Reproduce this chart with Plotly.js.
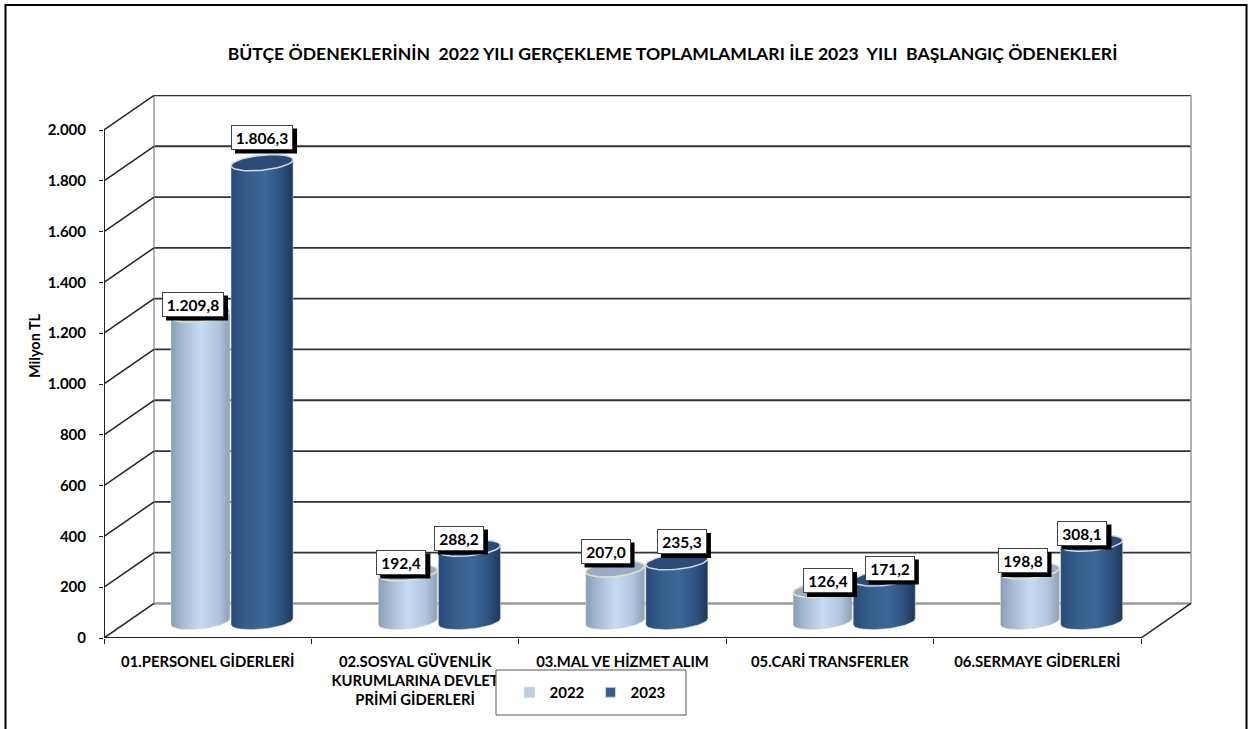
<!DOCTYPE html>
<html>
<head>
<meta charset="utf-8">
<script src="https://cdn.plot.ly/plotly-3.0.1.min.js"></script>
<style>html,body{margin:0;padding:0;background:#fff}#chart{width:1251px;height:729px}</style>
</head>
<body>
<div id="chart"></div>
<script>
// ---- data ----
const categories = ["01.PERSONEL GİDERLERİ", "02.SOSYAL GÜVENLİK<br>KURUMLARINA DEVLET<br>PRİMİ GİDERLERİ", "03.MAL VE HİZMET ALIM", "05.CARİ TRANSFERLER", "06.SERMAYE GİDERLERİ"];
const values2022 = [1209.8, 192.4, 207.0, 126.4, 198.8];
const values2023 = [1806.3, 288.2, 235.3, 171.2, 308.1];
const labels2022 = ["1.209,8", "192,4", "207,0", "126,4", "198,8"];
const labels2023 = ["1.806,3", "288,2", "235,3", "171,2", "308,1"];
const yTicks = [0, 200, 400, 600, 800, 1000, 1200, 1400, 1600, 1800, 2000];
const yTickLabels = ["0", "200", "400", "600", "800", "1.000", "1.200", "1.400", "1.600", "1.800", "2.000"];

// ---- label nudges, px from the top of each cylinder ----
const shift2022 = [[-7.4, 10.2], [-6.5, 10.6], [-9.7, 17.9], [5.4, 8.9], [-7.5, 10.5]];
const shift2023 = [[0, 25.7], [-10.5, 10.3], [5.1, 20.2], [5.6, 10], [-9.2, 10.2]];

// ---- geometry of the pseudo-3D plot ----
const W = 1251, H = 729;
const plotL = 104, plotR = 1192, plotT = 95, plotB = 638;
const pxPerCat = 207.4, pxPerUnit = 0.254;
const depthX = 50 / pxPerCat, depthY = 136;
const font = "Lato, Carlito, 'Open Sans', sans-serif";

const light = {name: "2022", offs: 0.465, rx: 29.5, top: "#9aadc4", edge: "#e8e4cc",
  scale: [[0, "#8a9db5"], [0.18, "#a3b7d0"], [0.5, "#c5daf4"], [0.8, "#b2c6de"], [1, "#8e9fb8"]], key: "#b9cde5"};
const dark = {name: "2023", offs: 0.762, rx: 31, top: "#2b4a75", edge: "#d4dbe2",
  scale: [[0, "#2a4a75"], [0.25, "#365c8c"], [0.55, "#3d6799"], [0.8, "#2f5380"], [1, "#1e385c"]], key: "#366092"};

const baseV = 16.5 / pxPerUnit, ryV = 7.5 / pxPerUnit, tiltV = 3 / pxPerUnit;

function ellipseArc(cx, cv, rxCat, a0, a1, n) {
  const xs = [], ys = [];
  for (let k = 0; k <= n; k++) {
    const t = a0 + (a1 - a0) * k / n;
    xs.push(cx + rxCat * Math.cos(t));
    ys.push(cv + ryV * Math.sin(t) + tiltV * Math.cos(t));
  }
  return [xs, ys];
}

const traces = [];
function segs(list, color, width) {
  const x = [], y = [];
  list.forEach(s => { x.push(s[0], s[2], null); y.push(s[1], s[3], null); });
  traces.push({type: "scatter", mode: "lines", x, y, line: {color, width}, hoverinfo: "skip", showlegend: false, cliponaxis: false});
}

// back wall gridlines, floor and wall edges
const catEnd = categories.length;
segs(yTicks.filter(v => v > 0).map(v => [depthX, v + depthY, catEnd + depthX, v + depthY]), "#333333", 1.8);
segs([[depthX, depthY, catEnd + depthX, depthY]], "#999999", 2.5);
segs([[depthX, depthY, depthX, 2000 + depthY], [catEnd + depthX, depthY, catEnd + depthX, 2000 + depthY]], "#999999", 1.5);
// side wall lines and floor edges
segs(yTicks.map(v => [0, v, depthX, v + depthY]).concat([[catEnd, 0, catEnd + depthX, depthY]]), "#222222", 1.5);
// front axes
segs([[0, 0, 0, 2000], [0, 0, catEnd, 0]], "#222222", 2);

const annotations = [], shapes = [];
function drawSeries(vals, labels, shifts, st) {
  vals.forEach((v, i) => {
    const cx = i + st.offs, rx = st.rx / pxPerCat, topV = baseV + v;
    const b = ellipseArc(cx, baseV, rx, Math.PI, 2 * Math.PI, 24);
    const u = ellipseArc(cx, topV, rx, 0, Math.PI, 24);
    traces.push({type: "scatter", mode: "lines", x: b[0].concat(u[0], [b[0][0]]), y: b[1].concat(u[1], [b[1][0]]),
      fill: "toself", fillgradient: {type: "horizontal", colorscale: st.scale},
      line: {color: st.edge, width: 0.5}, hoverinfo: "skip", showlegend: false});
    const t = ellipseArc(cx, topV, rx, 0, 2 * Math.PI, 48);
    traces.push({type: "scatter", mode: "lines", x: t[0], y: t[1], fill: "toself", fillcolor: st.top,
      line: {color: st.edge, width: 1.5}, hoverinfo: "skip", showlegend: false});
    const w = labels[i].length > 5 ? 62 : 50, h = 25;
    const dx = shifts[i][0], dy = shifts[i][1];
    shapes.push({type: "rect", xref: "x", yref: "y", xsizemode: "pixel", ysizemode: "pixel", xanchor: cx, yanchor: topV,
      x0: dx - w / 2 + 4, x1: dx + w / 2 + 4, y0: dy - h / 2 - 4, y1: dy + h / 2 - 4,
      fillcolor: "#000", line: {width: 0}, layer: "above"});
    annotations.push({x: cx, y: topV, xref: "x", yref: "y", text: "<b>" + labels[i] + "</b>", showarrow: false,
      xshift: dx, yshift: dy, width: w - 2, height: h - 2, borderpad: 0, bgcolor: "#fff", bordercolor: "#444", borderwidth: 1,
      align: "center", valign: "middle", font: {family: font, size: 15.5, color: "#000"}});
  });
}
drawSeries(values2022, labels2022, shift2022, light);
drawSeries(values2023, labels2023, shift2023, dark);

// legend keys
[light, dark].forEach(st => traces.push({type: "scatter", mode: "markers", x: [null], y: [null], name: st.name,
  marker: {symbol: "square", size: 10, color: st.key, line: {color: "#d8d4c0", width: 1}}, hoverinfo: "skip", showlegend: true}));

const spanX = plotR - plotL, spanY = plotB - plotT;
const paperX = px => (px - plotL) / spanX, paperY = py => (plotB - py) / spanY;

annotations.push({xref: "paper", yref: "paper", x: paperX(34), y: paperY(346), xanchor: "center", yanchor: "middle", text: "<b>Milyon TL</b>", textangle: -90,
  showarrow: false, font: {family: font, size: 14.5, color: "#000"}});

// outer frame and legend box
shapes.push({type: "rect", xref: "paper", yref: "paper", x0: paperX(5.5), x1: paperX(1246.5), y0: paperY(745), y1: paperY(5),
  line: {color: "#000", width: 2}, fillcolor: "rgba(0,0,0,0)", layer: "below"});
shapes.push({type: "rect", xref: "paper", yref: "paper", x0: paperX(496), x1: paperX(686), y0: paperY(715), y1: paperY(670),
  line: {color: "#555", width: 1}, fillcolor: "#fff", layer: "above"});

const layout = {
  width: W, height: H,
  paper_bgcolor: "#fff", plot_bgcolor: "rgba(0,0,0,0)",
  margin: {l: plotL, r: W - plotR, t: plotT, b: H - plotB, pad: 0},
  font: {family: font, color: "#000"},
  showlegend: true,
  hovermode: false,
  title: {text: "<b>BÜTÇE ÖDENEKLERİNİN\u00a0\u00a02022 YILI GERÇEKLEME TOPLAMLAMLARI İLE 2023\u00a0\u00a0YILI\u00a0\u00a0BAŞLANGIÇ ÖDENEKLERİ</b>",
    x: 672.5 / W, xanchor: "center", xref: "container", y: 1 - 54 / H, yanchor: "middle", font: {family: font, size: 17.6, color: "#000"}},
  legend: {orientation: "h", x: paperX(519.5), y: paperY(676), xanchor: "left", yanchor: "top", bgcolor: "rgba(0,0,0,0)", borderwidth: 0,
    font: {family: font, size: 15, color: "#000", weight: "bold"}, entrywidth: 46, entrywidthmode: "pixels", itemwidth: 30, indentation: -10},
  xaxis: {range: [0, spanX / pxPerCat], showgrid: false, zeroline: false, showline: false, fixedrange: true,
    tickmode: "array", tickvals: categories.map((c, i) => i + 0.5), ticktext: categories, ticks: "", tickangle: 0, ticklabelstandoff: 13,
    tickfont: {family: font, size: 14.8, color: "#000", weight: "bold"},
    minor: {tickmode: "array", tickvals: categories.map((c, i) => i).concat([catEnd]), ticks: "outside", ticklen: 5, tickcolor: "#222", tickwidth: 1}},
  yaxis: {range: [0, spanY / pxPerUnit], showgrid: false, zeroline: false, showline: false, fixedrange: true,
    tickmode: "array", tickvals: yTicks, ticktext: yTickLabels, ticks: "outside", ticklen: 4, tickcolor: "#222", tickwidth: 1, ticklabelstandoff: 10,
    tickfont: {family: font, size: 15, color: "#000", weight: "bold"}},
  shapes, annotations
};
Plotly.newPlot("chart", traces, layout, {displayModeBar: false, staticPlot: true});
</script>
</body>
</html>
